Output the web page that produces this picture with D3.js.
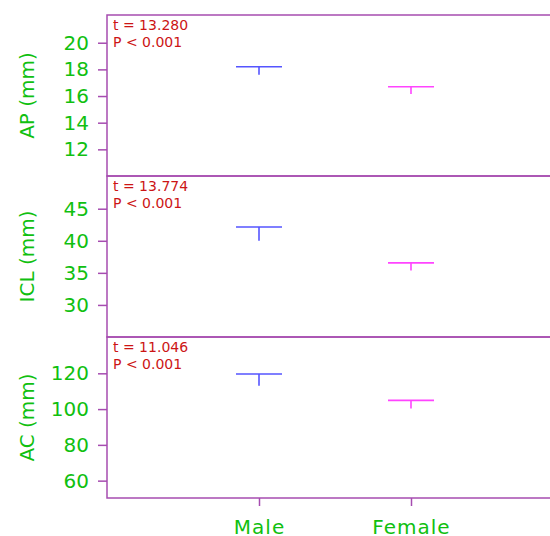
<!DOCTYPE html>
<html>
<head>
<meta charset="utf-8">
<script src="https://cdn.jsdelivr.net/npm/d3@7"></script>
<style>
  body { margin: 0; background: #fff; }
  svg { display: block; }
  svg text { font-family: "DejaVu Sans", sans-serif; }
</style>
</head>
<body>
<svg id="chart" width="550" height="536"></svg>
<script>
// error bar chart, three stacked panels sharing the sex axis

var groups = ["Male", "Female"];
var measures = ["AP (mm)", "ICL (mm)", "AC (mm)"];
var tStats = ["t = 13.280", "t = 13.774", "t = 11.046"];
var pStats = ["P < 0.001", "P < 0.001", "P < 0.001"];

// mean and lower end of the bar, per panel: [Male, Female]
var apMean = [18.2, 16.7],   apLow = [17.6, 16.15];
var iclMean = [42.15, 36.55], iclLow = [40.0, 35.35];
var acMean = [119.6, 104.9], acLow = [113.1, 100.4];

var yTicks = [[12, 14, 16, 18, 20], [30, 35, 40, 45], [60, 80, 100, 120]];
var yDomains = [[10, 22.08], [25, 50.1], [50.3, 140.3]];

var panels = [
	{ mean: apMean, low: apLow },
	{ mean: iclMean, low: iclLow },
	{ mean: acMean, low: acLow }
];

var colors = ["#5555ff", "#ff44ff"];
var purple = "#a64cb0", green = "#10c010", red = "#cc1515";

var plotLeft = 107, plotTop = 15, panelH = 161, plotRight = 563;

var svg = d3.select("#chart");

var x = d3.scalePoint()
	.domain(groups)
	.range([plotLeft, plotRight])
	.padding(1);

panels.forEach(function(p, i) {
	var y0 = plotTop + i * panelH;
	var y = d3.scaleLinear().domain(yDomains[i]).range([y0 + panelH, y0]);

	var g = svg.append("g");

	g.append("rect")
		.attr("x", plotLeft).attr("y", y0)
		.attr("width", plotRight - plotLeft + 10).attr("height", panelH)
		.attr("fill", "none")
		.attr("stroke", purple)
		.attr("stroke-width", 1.5);

	var ax = g.append("g")
		.attr("transform", "translate(" + plotLeft + ",0)")
		.call(d3.axisLeft(y).tickValues(yTicks[i]).tickSize(9).tickPadding(9));
	ax.select(".domain").remove();
	ax.selectAll("line").attr("stroke", purple).attr("stroke-width", 1.5);
	ax.selectAll("text")
		.attr("fill", green)
		.style("font-size", "20px");

	g.append("text")
		.attr("transform", "translate(34," + (y0 + panelH / 2) + ") rotate(-90)")
		.attr("text-anchor", "middle")
		.attr("fill", green)
		.style("font-size", "20px")
		.text(measures[i]);

	g.append("text")
		.attr("x", plotLeft + 6).attr("y", y0 + 15)
		.attr("fill", red)
		.style("font-size", "14px")
		.text(tStats[i]);
	g.append("text")
		.attr("x", plotLeft + 6).attr("y", y0 + 32)
		.attr("fill", red)
		.style("font-size", "14px")
		.text(pStats[i]);

	groups.forEach(function(grp, j) {
		var cx = x(grp);
		g.append("line")
			.attr("x1", cx - 23).attr("x2", cx + 23)
			.attr("y1", y(p.mean[j])).attr("y2", y(p.mean[j]))
			.attr("stroke", colors[j]).attr("stroke-width", 1.6);
		g.append("line")
			.attr("x1", cx).attr("x2", cx)
			.attr("y1", y(p.mean[j])).attr("y2", y(p.low[j]))
			.attr("stroke", colors[j]).attr("stroke-width", 1.6);
	});
});

var plotBottom = plotTop + 3 * panelH;
var xa = svg.append("g")
	.attr("transform", "translate(0," + plotBottom + ")")
	.call(d3.axisBottom(x).tickSize(8).tickPadding(14));
xa.select(".domain").remove();
xa.selectAll("line").attr("stroke", purple).attr("stroke-width", 1.5);
xa.selectAll("text")
	.attr("fill", green)
	.style("font-size", "20px")
	.style("letter-spacing", "1px");
</script>
</body>
</html>
